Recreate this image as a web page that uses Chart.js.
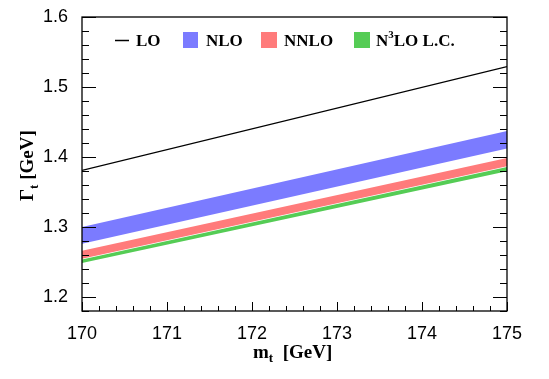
<!DOCTYPE html>
<html>
<head>
<meta charset="utf-8">
<script src="https://cdn.jsdelivr.net/npm/chart.js@4/dist/chart.umd.min.js"></script>
<style>
  html, body { margin: 0; padding: 0; background: #fff; }
  #wrap { width: 549px; height: 379px; position: relative; }
</style>
</head>
<body>
<div id="wrap"><canvas id="c" width="549" height="379"></canvas></div>
<script>
// ---- data ----
const masses   = [170, 175];            // m_t [GeV]
const lo       = [1.381, 1.529];
const nloHigh  = [1.300, 1.437];
const nloLow   = [1.276, 1.412];
const nnloHigh = [1.266, 1.3986];
const nnloLow  = [1.2547, 1.3867];
const n3loHigh = [1.2537, 1.3858];
const n3loLow  = [1.2485, 1.3795];
const xTicks = [170, 171, 172, 173, 174, 175];
const yTicks = [1.2, 1.3, 1.4, 1.5, 1.6];
const legendLabels = ['LO', 'NLO', 'NNLO', 'N3LO L.C.'];

const BLUE = 'rgb(123,123,255)';
const RED = 'rgb(255,123,123)';
const GREEN = 'rgb(85,204,85)';

function pts(arr) { return masses.map((m, i) => ({ x: m, y: arr[i] })); }

const SERIF_B = 'bold 17px "Liberation Serif", "Times New Roman", serif';
const TITLE_B = 'bold 19px "Liberation Serif", "Times New Roman", serif';
const SUB_B = 'bold 13px "Liberation Serif", "Times New Roman", serif';

const framePlugin = {
  id: 'frame',
  afterDraw(chart) {
    const ctx = chart.ctx;
    const a = chart.chartArea;
    const xs = chart.scales.x, ys = chart.scales.y;
    ctx.save();
    ctx.strokeStyle = '#000';
    ctx.lineWidth = 1.3;
    ctx.strokeRect(a.left, a.top, a.right - a.left, a.bottom - a.top);
    ctx.lineWidth = 1;
    ctx.beginPath();
    // y ticks (left and right)
    for (let k = 0; k <= 21; k++) {
      const v = 1.18 + k * 0.02;
      if (v > 1.6001) break;
      const major = Math.abs(v * 10 - Math.round(v * 10)) < 1e-6;
      const len = major ? 14 : 7;
      const py = Math.round(ys.getPixelForValue(v)) + 0.5;
      ctx.moveTo(a.left, py); ctx.lineTo(a.left + len, py);
      ctx.moveTo(a.right, py); ctx.lineTo(a.right - len, py);
    }
    // x ticks (bottom)
    for (let k = 0; k <= 25; k++) {
      const v = 170 + k * 0.2;
      const major = k % 5 === 0;
      const len = major ? 9 : 5;
      const px = Math.round(xs.getPixelForValue(v)) + 0.5;
      ctx.moveTo(px, a.bottom); ctx.lineTo(px, a.bottom - len);
    }
    ctx.stroke();

    // axis titles
    ctx.fillStyle = '#000';
    ctx.textBaseline = 'alphabetic';
    ctx.textAlign = 'left';
    // x title: m_t  [GeV]
    let x = 253, y = 358;
    ctx.font = TITLE_B;
    ctx.fillText('m', x, y);
    x += ctx.measureText('m').width;
    ctx.font = SUB_B;
    ctx.fillText('t', x, y + 4);
    x += ctx.measureText('t').width;
    ctx.font = TITLE_B;
    ctx.fillText('  [GeV]', x, y);

    // y title: Gamma_t [GeV] rotated
    ctx.save();
    ctx.translate(33, 201);
    ctx.rotate(-Math.PI / 2);
    let t = 0;
    ctx.font = TITLE_B;
    ctx.fillText('\u0393', t, 0);
    t += ctx.measureText('\u0393').width;
    ctx.font = SUB_B;
    ctx.fillText('t', t, 5);
    t += ctx.measureText('t').width;
    ctx.font = TITLE_B;
    ctx.fillText(' [GeV]', t, 0);
    ctx.restore();

    // legend
    const by = 46;
    ctx.lineWidth = 1.5;
    ctx.beginPath();
    ctx.moveTo(115, 40.5); ctx.lineTo(129, 40.5);
    ctx.stroke();
    ctx.font = SERIF_B;
    ctx.fillText(legendLabels[0], 136, by);
    ctx.fillStyle = BLUE; ctx.fillRect(183, 32, 15, 16);
    ctx.fillStyle = '#000'; ctx.fillText(legendLabels[1], 206, by);
    ctx.fillStyle = RED; ctx.fillRect(261, 32, 16, 16);
    ctx.fillStyle = '#000'; ctx.fillText(legendLabels[2], 284, by);
    ctx.fillStyle = GREEN; ctx.fillRect(354, 32, 16, 16);
    ctx.fillStyle = '#000';
    let lx = 376;
    ctx.fillText('N', lx, by);
    lx += ctx.measureText('N').width;
    ctx.font = 'bold 11px "Liberation Serif", serif';
    ctx.fillText('3', lx, by - 8);
    lx += ctx.measureText('3').width;
    ctx.font = SERIF_B;
    ctx.fillText('LO L.C.', lx, by);
    ctx.restore();
  }
};

new Chart(document.getElementById('c'), {
  type: 'line',
  data: {
    datasets: [
      { label: 'N3LO low', data: pts(n3loLow), borderWidth: 0, pointRadius: 0, fill: false },
      { label: 'N3LO L.C.', data: pts(n3loHigh), borderWidth: 0, pointRadius: 0, fill: '-1', backgroundColor: GREEN },
      { label: 'NNLO low', data: pts(nnloLow), borderWidth: 0, pointRadius: 0, fill: false },
      { label: 'NNLO', data: pts(nnloHigh), borderWidth: 0, pointRadius: 0, fill: '-1', backgroundColor: RED },
      { label: 'NLO low', data: pts(nloLow), borderWidth: 0, pointRadius: 0, fill: false },
      { label: 'NLO', data: pts(nloHigh), borderWidth: 0, pointRadius: 0, fill: '-1', backgroundColor: BLUE },
      { label: 'LO', data: pts(lo), borderColor: '#000', borderWidth: 1.3, pointRadius: 0, fill: false }
    ]
  },
  options: {
    responsive: false,
    animation: false,
    layout: { padding: { left: 0, right: 42, top: 17, bottom: 0 } },
    plugins: { legend: { display: false }, tooltip: { enabled: false } },
    scales: {
      x: {
        type: 'linear', min: 170, max: 175,
        grid: { display: false }, border: { display: false },
        afterBuildTicks(s) { s.ticks = xTicks.map(v => ({ value: v })); },
        afterFit(s) { s.height = 68; },
        ticks: { color: '#000', font: { family: '"Liberation Sans", Arial, sans-serif', size: 18 }, padding: 4, maxRotation: 0,
                 callback: v => String(v) }
      },
      y: {
        type: 'linear', min: 1.18, max: 1.6,
        grid: { display: false }, border: { display: false },
        afterBuildTicks(s) { s.ticks = yTicks.map(v => ({ value: v })); },
        afterFit(s) { s.width = 82; },
        ticks: { color: '#000', font: { family: '"Liberation Sans", Arial, sans-serif', size: 18 }, padding: 6,
                 callback: v => v.toFixed(1) }
      }
    }
  },
  plugins: [framePlugin]
});
</script>
</body>
</html>
